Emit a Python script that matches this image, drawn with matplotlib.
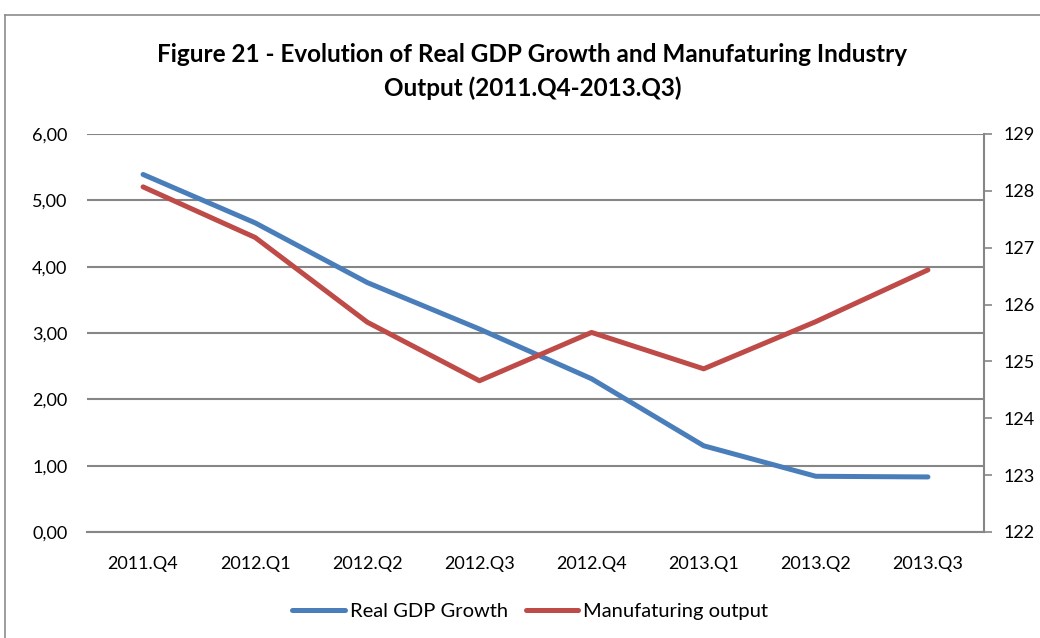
import matplotlib.pyplot as plt
from matplotlib.ticker import FuncFormatter
from matplotlib.lines import Line2D

quarters = ["2011.Q4", "2012.Q1", "2012.Q2", "2012.Q3", "2012.Q4", "2013.Q1", "2013.Q2", "2013.Q3"]
gdp_growth = [5.39, 4.66, 3.76, 3.06, 2.31, 1.30, 0.84, 0.83]
manuf_output = [128.07, 127.18, 125.69, 124.66, 125.51, 124.87, 125.70, 126.61]

blue = "#4A7EBB"
red = "#BE4B48"
grid_col = "#868686"

plt.rcParams['font.family'] = ['Lato', 'DejaVu Sans']

fig = plt.figure(figsize=(10.4, 6.38), dpi=100)
ax = fig.add_axes([87 / 1040, 1 - 532 / 638, (984 - 87) / 1040, (532 - 134) / 638])
ax2 = ax.twinx()

x = range(len(quarters))
ax.plot(x, gdp_growth, color=blue, lw=3.6, solid_capstyle='round', zorder=3)
ax2.plot(x, manuf_output, color=red, lw=3.6, solid_capstyle='round', zorder=3)

ax.set_xlim(-0.5, len(quarters) - 0.5)
ax.set_ylim(0, 6)
ax2.set_ylim(122, 129)
ax.set_yticks(range(0, 7))
ax2.set_yticks(range(122, 130))
ax.yaxis.set_major_formatter(FuncFormatter(lambda v, p: f"{v:.2f}".replace('.', ',')))

ax.set_xticks(list(x))
ax.set_xticklabels(quarters)
ax.grid(axis='y', color=grid_col, lw=1.5)
ax.set_axisbelow(True)

for a in (ax, ax2):
    for s in ('top', 'left'):
        a.spines[s].set_visible(False)
ax2.spines['bottom'].set_visible(False)
ax.spines['right'].set_visible(False)
ax.spines['bottom'].set_color(grid_col)
ax.spines['bottom'].set_linewidth(1.5)
ax2.spines['right'].set_color(grid_col)
ax2.spines['right'].set_linewidth(1.5)

fs = 13
ax.tick_params(axis='y', length=0, pad=14, labelsize=fs)
ax.tick_params(axis='x', length=0, pad=17, labelsize=fs)
ax2.tick_params(axis='y', length=6, width=1.2, color=grid_col, pad=8, labelsize=fs, direction='out')

fig.text(0.512, 1 - 55 / 638, "Figure 21 - Evolution of Real GDP Growth and Manufaturing Industry",
         ha='center', va='center', fontsize=17.5, fontweight='bold')
fig.text(0.512, 1 - 88 / 638, "Output (2011.Q4-2013.Q3)",
         ha='center', va='center', fontsize=17.5, fontweight='bold')

handles = [Line2D([], [], color=blue, lw=3.6, solid_capstyle='round'),
           Line2D([], [], color=red, lw=3.6, solid_capstyle='round')]
fig.legend(handles, ["Real GDP Growth", "Manufaturing output"], loc='center',
           bbox_to_anchor=(0.51, 1 - 611 / 638), ncol=2, frameon=False,
           fontsize=14.5, handlelength=2.6, handletextpad=0.25, columnspacing=0.9)

# chart border
fig.add_artist(Line2D([5 / 1040, 5 / 1040], [0, 1 - 15 / 638], color="#8C8C8C", lw=1.2))
fig.add_artist(Line2D([5 / 1040, 1], [1 - 15 / 638, 1 - 15 / 638], color="#8C8C8C", lw=1.2))

fig.savefig("out.png", dpi=100)
